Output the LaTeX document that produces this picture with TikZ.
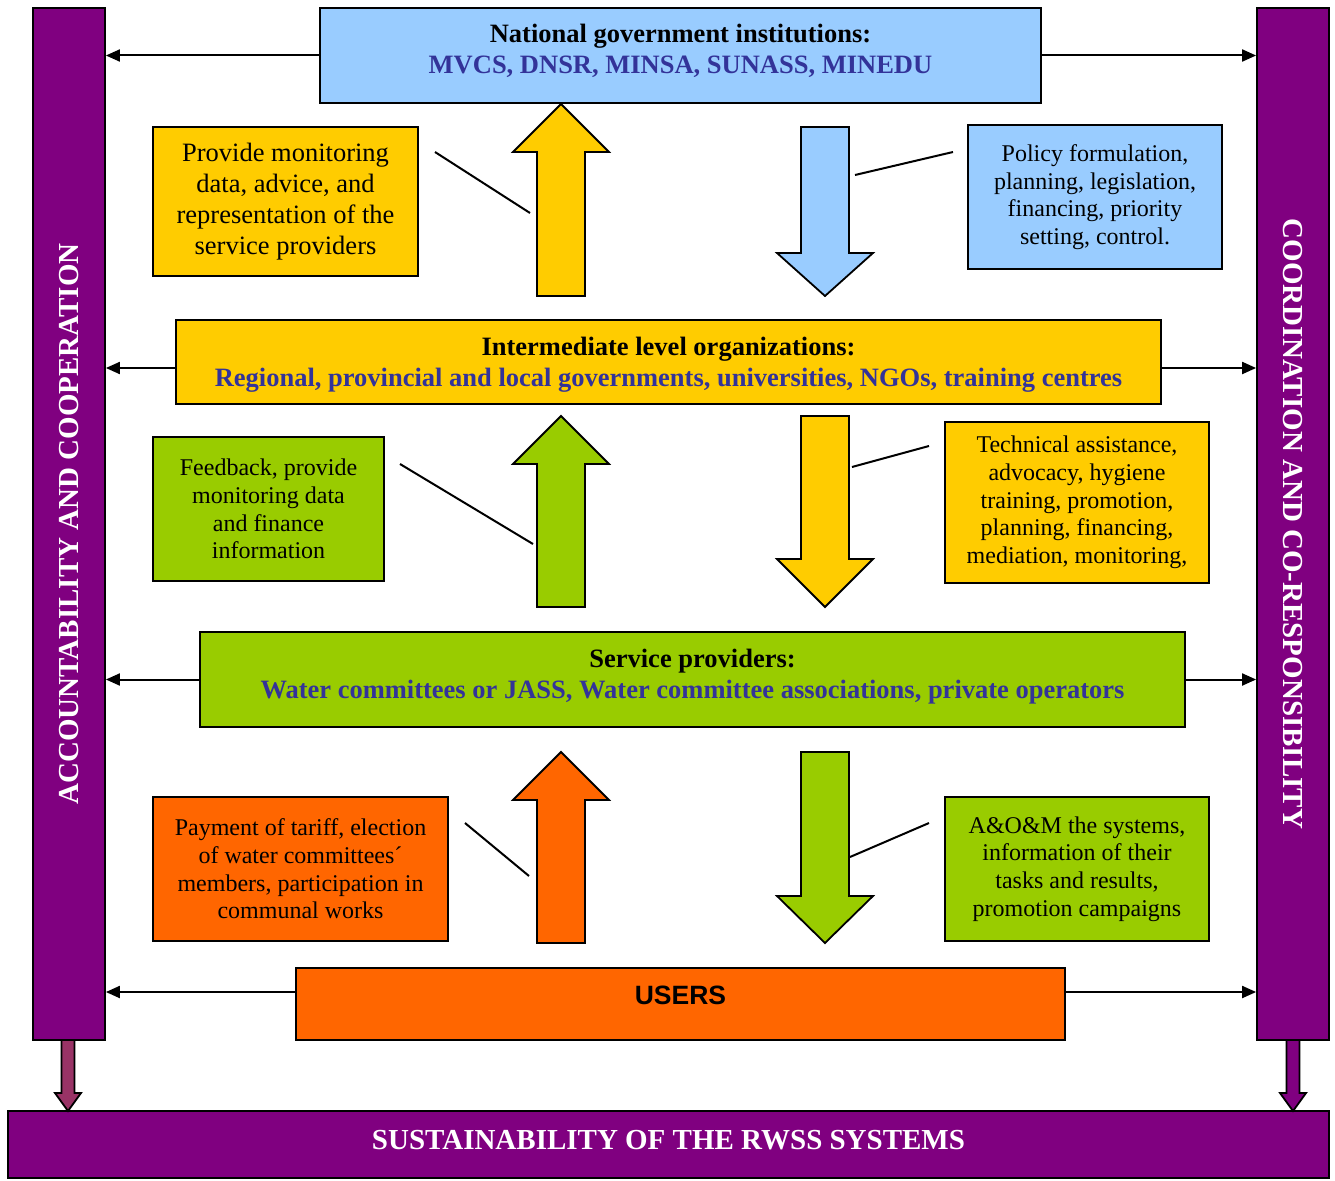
\documentclass[tikz,border=0pt]{standalone}
\usepackage{fontspec}
\setmainfont{Liberation Serif}
\newfontfamily\usersfont{Liberation Sans}
\usetikzlibrary{arrows.meta,shapes,positioning}

\definecolor{govblue}{HTML}{99CCFF}
\definecolor{midyellow}{HTML}{FFCC00}
\definecolor{provgreen}{HTML}{99CC00}
\definecolor{userorange}{HTML}{FF6600}
\definecolor{barpurple}{HTML}{800080}
\definecolor{barmauve}{HTML}{993366}
\definecolor{namesblue}{HTML}{333399}

% block arrows: centre x, tip y, foot y, colour
\newcommand{\fatup}[4]{%
  \draw[line width=1.8pt, fill=#4] (#1,#2) -- (#1+48,#2+48) -- (#1+24,#2+48) -- (#1+24,#3)
    -- (#1-24,#3) -- (#1-24,#2+48) -- (#1-48,#2+48) -- cycle;}
% centre x, top y, head y, tip y, colour
\newcommand{\fatdown}[5]{%
  \draw[line width=1.8pt, fill=#5] (#1-24,#2) -- (#1+24,#2) -- (#1+24,#3) -- (#1+48,#3)
    -- (#1,#4) -- (#1-48,#3) -- (#1-24,#3) -- cycle;}
% centre x, colour
\newcommand{\thindown}[2]{%
  \draw[line width=1.8pt, fill=#2] (#1-6.5,1040) -- (#1+6.5,1040) -- (#1+6.5,1093) -- (#1+13,1093)
    -- (#1,1111) -- (#1-13,1093) -- (#1-6.5,1093) -- cycle;}

\begin{document}
\begin{tikzpicture}[x=1pt,y=-1pt]
\tikzstyle{every node}+=[inner sep=0pt]
\tikzstyle{box}=[draw, line width=1.8pt, align=center]
\tikzstyle{levelfont}=[align=center, font=\fontsize{26.5}{31}\selectfont\bfseries]
\tikzstyle{level}=[box, levelfont]
\tikzstyle{task}=[box, font=\fontsize{24}{27.7}\selectfont]
\tikzstyle{bigtask}=[box, font=\fontsize{26.5}{31}\selectfont]
\tikzstyle{bar}=[draw, line width=1.8pt, fill=barpurple]
\tikzstyle{bartext}=[text=white, font=\fontsize{29}{33}\selectfont\bfseries]
\tikzstyle{link}=[line width=2pt, -{Triangle[length=14pt,width=12pt]}]
\tikzstyle{pointer}=[line width=2pt]

\useasboundingbox (0,0) rectangle (1335,1180);

% side bars and bottom bar
\node[bar, minimum width=72, minimum height=1032] (accbar) at (69,524) {};
\node[bartext, rotate=90] (acctext) at (accbar.center) {ACCOUNTABILITY AND COOPERATION};
\node[bar, minimum width=72, minimum height=1032] (coobar) at (1293,524) {};
\node[bartext, rotate=-90] (cootext) at (coobar.center) {COORDINATION AND CO-RESPONSIBILITY};
\node[bar, minimum width=1321, minimum height=67] (sust) at (668.5,1144.5) {};
\node[bartext] (susttext) at (668.5,1140) {SUSTAINABILITY OF THE RWSS SYSTEMS};

\thindown{68}{barmauve}
\thindown{1293}{barpurple}

% levels
\node[level, fill=govblue, minimum width=721, minimum height=95] (nat) at (680.5,55.5) {};
\node[levelfont] (nattext) at (680.5,51) {National government institutions:\\
  \textcolor{namesblue}{MVCS, DNSR, MINSA, SUNASS, MINEDU}};
\node[level, fill=midyellow, minimum width=985, minimum height=84] (inter) at (668.5,362) {};
\node[levelfont] (intertext) at (668.5,365) {Intermediate level organizations:\\
  \textcolor{namesblue}{Regional, provincial and local governments, universities, NGOs, training centres}};
\node[level, fill=provgreen, minimum width=985, minimum height=95] (serv) at (692.5,679.5) {};
\node[levelfont] (servtext) at (692.5,677) {Service providers:\\
  \textcolor{namesblue}{Water committees or JASS, Water committee associations, private operators}};
\node[box, fill=userorange, minimum width=769, minimum height=72] (users) at (680.5,1004) {};
\node[font=\usersfont\fontsize{26.5}{31}\selectfont\bfseries] (userstext) at (680.5,995) {USERS};

% links to the side bars
\draw[link] (nat) -- (nat -| accbar.east);
\draw[link] (nat) -- (nat -| coobar.west);
\draw[link] ([yshift=-6pt]inter.west) -- ([yshift=-6pt]inter.west -| accbar.east);
\draw[link] ([yshift=-6pt]inter.east) -- ([yshift=-6pt]inter.east -| coobar.west);
\draw[link] (serv) -- (serv -| accbar.east);
\draw[link] (serv) -- (serv -| coobar.west);
\draw[link] ([yshift=12pt]users.west) -- ([yshift=12pt]users.west -| accbar.east);
\draw[link] ([yshift=12pt]users.east) -- ([yshift=12pt]users.east -| coobar.west);

% block arrows between levels
\fatup{561}{104}{296}{midyellow}
\fatdown{825}{127}{253}{296}{govblue}
\fatup{561}{416}{607}{provgreen}
\fatdown{825}{416}{559}{607}{midyellow}
\fatup{561}{752}{943}{userorange}
\fatdown{825}{752}{896}{943}{provgreen}

% tasks
\node[bigtask, fill=midyellow, minimum width=265, minimum height=149] (mon) at (285.5,201.5)
  {Provide monitoring\\data, advice, and\\representation of the\\service providers};
\node[task, fill=govblue, minimum width=254, minimum height=144] (pol) at (1095,197)
  {Policy formulation,\\planning, legislation,\\financing, priority\\setting, control.};
\node[task, fill=provgreen, minimum width=231, minimum height=144] (feed) at (268.5,509)
  {Feedback, provide\\monitoring data\\and finance\\information};
\node[task, fill=midyellow, minimum width=264, minimum height=161] (tech) at (1077,502.5)
  {Technical assistance,\\advocacy, hygiene\\training, promotion,\\planning, financing,\\mediation, monitoring,};
\node[task, fill=userorange, minimum width=295, minimum height=144] (pay) at (300.5,869)
  {Payment of tariff, election\\of water committees´\\members, participation in\\communal works};
\node[task, fill=provgreen, minimum width=264, minimum height=144] (aom) at (1077,869)
  {A\&O\&M the systems,\\information of their\\tasks and results,\\promotion campaigns};

% pointer lines
\coordinate (mon1) at (435,152);
\coordinate (mon2) at (530,213);
\coordinate (pol1) at (953,152);
\coordinate (pol2) at (855,175);
\coordinate (feed1) at (400,464);
\coordinate (feed2) at (533,544);
\coordinate (tech1) at (929,446);
\coordinate (tech2) at (852,467);
\coordinate (pay1) at (465,823);
\coordinate (pay2) at (529,876);
\coordinate (aom1) at (929,823);
\coordinate (aom2) at (850,857);
\draw[pointer] (mon1) -- (mon2);
\draw[pointer] (pol1) -- (pol2);
\draw[pointer] (feed1) -- (feed2);
\draw[pointer] (tech1) -- (tech2);
\draw[pointer] (pay1) -- (pay2);
\draw[pointer] (aom1) -- (aom2);
\end{tikzpicture}
\end{document}
